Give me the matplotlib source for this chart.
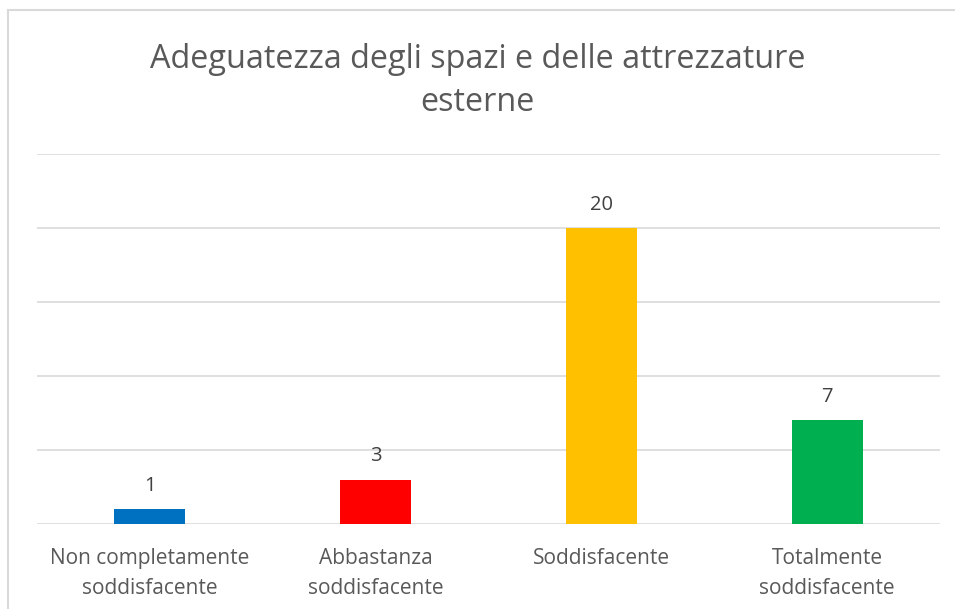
import matplotlib
matplotlib.use("Agg")
import matplotlib.pyplot as plt
from matplotlib.patches import Rectangle

categories = ["Non completamente\nsoddisfacente", "Abbastanza\nsoddisfacente",
              "Soddisfacente", "Totalmente\nsoddisfacente"]
values = [1, 3, 20, 7]
colors = ["#0070C0", "#FF0000", "#FFC000", "#00B050"]
title = "Adeguatezza degli spazi e delle attrezzature\nesterne"

plt.rcParams['font.family'] = ['Open Sans', 'DejaVu Sans']

W, H = 955, 609
fig = plt.figure(figsize=(W / 100, H / 100), dpi=100)
fig.patches.append(Rectangle((8 / W, -0.1), 1.2, 1 - 10 / H + 0.1, transform=fig.transFigure,
                             fill=False, edgecolor="#d9d9d9", linewidth=1.5))

ax = fig.add_axes([37 / W, 1 - 524 / H, (940 - 37) / W, (524 - 154) / H])
x = range(len(values))
bars = ax.bar(x, values, width=0.315, color=colors, zorder=3)
for b, v in zip(bars, values):
    ax.text(b.get_x() + b.get_width() / 2, v + 0.9, str(v), ha="center", va="bottom",
            fontsize=14.5, color="#404040")

ax.set_xlim(-0.5, len(values) - 0.5)
ax.set_ylim(0, 25)
ax.set_yticks([0, 5, 10, 15, 20, 25])
ax.yaxis.grid(True, color="#d9d9d9", linewidth=1.2, zorder=0)
ax.tick_params(axis="y", left=False, labelleft=False)
ax.tick_params(axis="x", length=0, pad=17, labelsize=15, labelcolor="#595959")
ax.set_xticks(list(x))
ax.set_xticklabels(categories, linespacing=1.6)
for s in ax.spines.values():
    s.set_visible(False)

fig.text(0.5, 1 - 81 / H, title, ha="center", va="center", fontsize=23.3,
         color="#595959", linespacing=1.42)

fig.savefig("out.png", dpi=100)
